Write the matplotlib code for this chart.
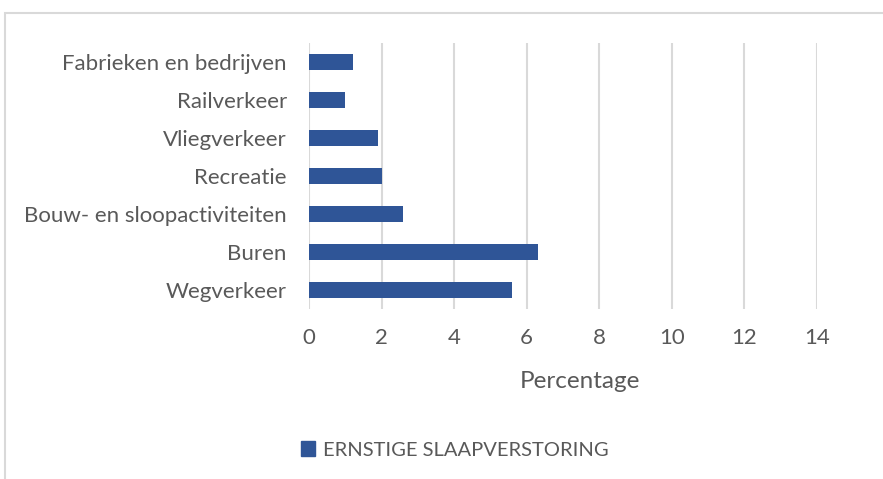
import matplotlib
matplotlib.use("Agg")
import matplotlib.pyplot as plt
from matplotlib.patches import Rectangle

categories = ["Wegverkeer", "Buren", "Bouw- en sloopactiviteiten", "Recreatie",
              "Vliegverkeer", "Railverkeer", "Fabrieken en bedrijven"]
values = [5.6, 6.3, 2.6, 2.0, 1.9, 1.0, 1.2]
series_name = "ERNSTIGE SLAAPVERSTORING"
xticks = [0, 2, 4, 6, 8, 10, 12, 14]

W, H = 883, 479
fig = plt.figure(figsize=(W / 100, H / 100), dpi=100)
plt.rcParams['font.family'] = ['Lato', 'DejaVu Sans']
text_color = "#595959"
bar_color = "#2F5597"
grid_color = "#d9d9d9"

# outer chart border
fig.patches.append(Rectangle((5 / W, -0.05), 1.2, 1 - 13 / H + 0.05,
                             transform=fig.transFigure, fill=False,
                             edgecolor=grid_color, linewidth=1.5))

ax = fig.add_axes([309 / W, 1 - 309 / H, (817 - 309) / W, (309 - 43) / H])
ax.barh(range(len(categories)), values, height=0.4, color=bar_color, zorder=3)
ax.set_xlim(0, 14)
ax.set_ylim(-0.5, len(categories) - 0.5)
ax.set_xticks(xticks)
ax.set_xticklabels([str(t) for t in xticks])
ax.set_yticks(range(len(categories)))
ax.set_yticklabels(categories)
ax.grid(axis="x", color=grid_color, linewidth=1.5, zorder=0)
for s in ax.spines.values():
    s.set_visible(False)
ax.tick_params(axis="both", length=0, colors=text_color, labelsize=16)
ax.tick_params(axis="x", pad=14)
ax.tick_params(axis="y", pad=16)
ax.set_xlabel("Percentage", fontsize=17.5, color=text_color, va="center")
ax.xaxis.set_label_coords((580 - 309) / 508, (309 - 381) / 266)

# legend
ax.legend([Rectangle((0, 0), 1, 1, color=bar_color)], [series_name],
          loc="center", bbox_to_anchor=(455 / W, 1 - 450 / H),
          bbox_transform=fig.transFigure, frameon=False,
          handlelength=0.7, handleheight=0.7, handletextpad=0.4,
          prop={"size": 14.5}, labelcolor=text_color)

fig.savefig("out.png", dpi=100)
